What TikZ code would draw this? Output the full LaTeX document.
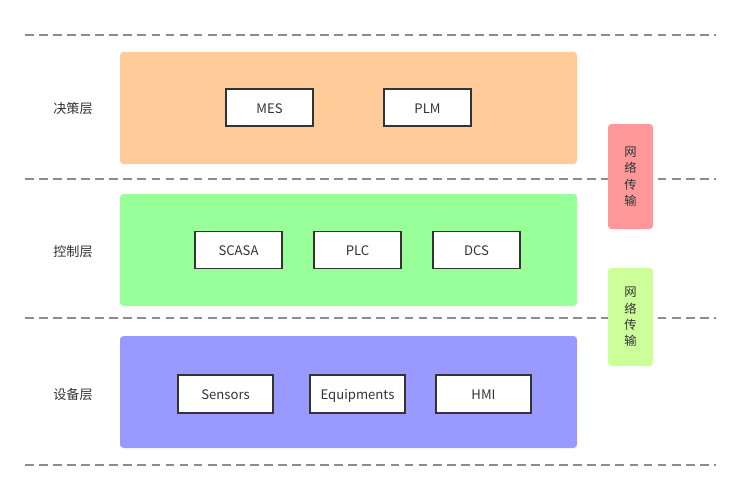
\documentclass[tikz,border=0pt]{standalone}
\usepackage{fontspec}
\setmainfont{Noto Sans CJK SC}
\usetikzlibrary{positioning}

\definecolor{bandorange}{HTML}{FFCC99}
\definecolor{bandgreen}{HTML}{99FF99}
\definecolor{bandblue}{HTML}{9999FF}
\definecolor{netred}{HTML}{FF9999}
\definecolor{netlime}{HTML}{CCFF99}
\definecolor{sepgray}{HTML}{8C8C8C}
\definecolor{txtgray}{HTML}{333333}

\begin{document}
\begin{tikzpicture}[
    x=0.03cm, y=-0.03cm,
    every node/.style={font=\fontsize{11.2}{13}\selectfont, text=txtgray},
    band/.style={rectangle, rounded corners=3pt, minimum width=457*0.03cm, minimum height=112*0.03cm, inner sep=0pt},
    sysbox/.style={rectangle, draw=txtgray, line width=1.6pt, fill=white, minimum width=87*0.03cm, minimum height=37*0.03cm, inner sep=0pt, text height=9.5pt, text depth=0pt},
    devbox/.style={sysbox, minimum width=95*0.03cm, minimum height=38*0.03cm},
    netbox/.style={rectangle, rounded corners=3pt, minimum width=45*0.03cm, inner sep=0pt, align=center, font=\fontsize{10.5}{14}\selectfont},
    layerlabel/.style={anchor=center},
    sepline/.style={draw=sepgray, line width=0.9pt, dash pattern=on 7.5pt off 4.5pt}
]

% canvas
\useasboundingbox[fill=white] (0,0) rectangle (741,501);

% separators
\foreach \y/\n in {35/a,179/b,318/c,465/d}{
  \coordinate (sl\n) at (25,\y);
  \coordinate (sr\n) at (716,\y);
  \draw[sepline] (sl\n) -- (sr\n);
}

% layer bands
\node[band, fill=bandorange] (decide) at (348.5,108) {};
\node[band, fill=bandgreen] (control) at (348.5,250) {};
\node[band, fill=bandblue] (device) at (348.5,392) {};

% layer labels
\node[layerlabel] (ldecide) at (73,109) {决策层};
\node[layerlabel] (lcontrol) at (73,252) {控制层};
\node[layerlabel] (ldevice) at (73,395) {设备层};

% decision layer
\node[sysbox] (mes) at (269.5,107.5) {MES};
\node[sysbox] (plm) at (427.5,107.5) {PLM};

% control layer
\node[sysbox] (scasa) at (238.5,250) {SCASA};
\node[sysbox] (plc) at (357.5,250) {PLC};
\node[sysbox] (dcs) at (476.5,250) {DCS};

% device layer
\node[devbox] (sensors) at (225.5,394) {Sensors};
\node[devbox] (equip) at (357.5,394) {Equipments};
\node[devbox] (hmi) at (483.5,394) {HMI};

% network columns
\node[netbox, fill=netred, minimum height=105*0.03cm] (net1) at (630.5,176.5) {网\\络\\传\\输};
\node[netbox, fill=netlime, minimum height=98*0.03cm] (net2) at (630.5,317) {网\\络\\传\\输};

\end{tikzpicture}
\end{document}
